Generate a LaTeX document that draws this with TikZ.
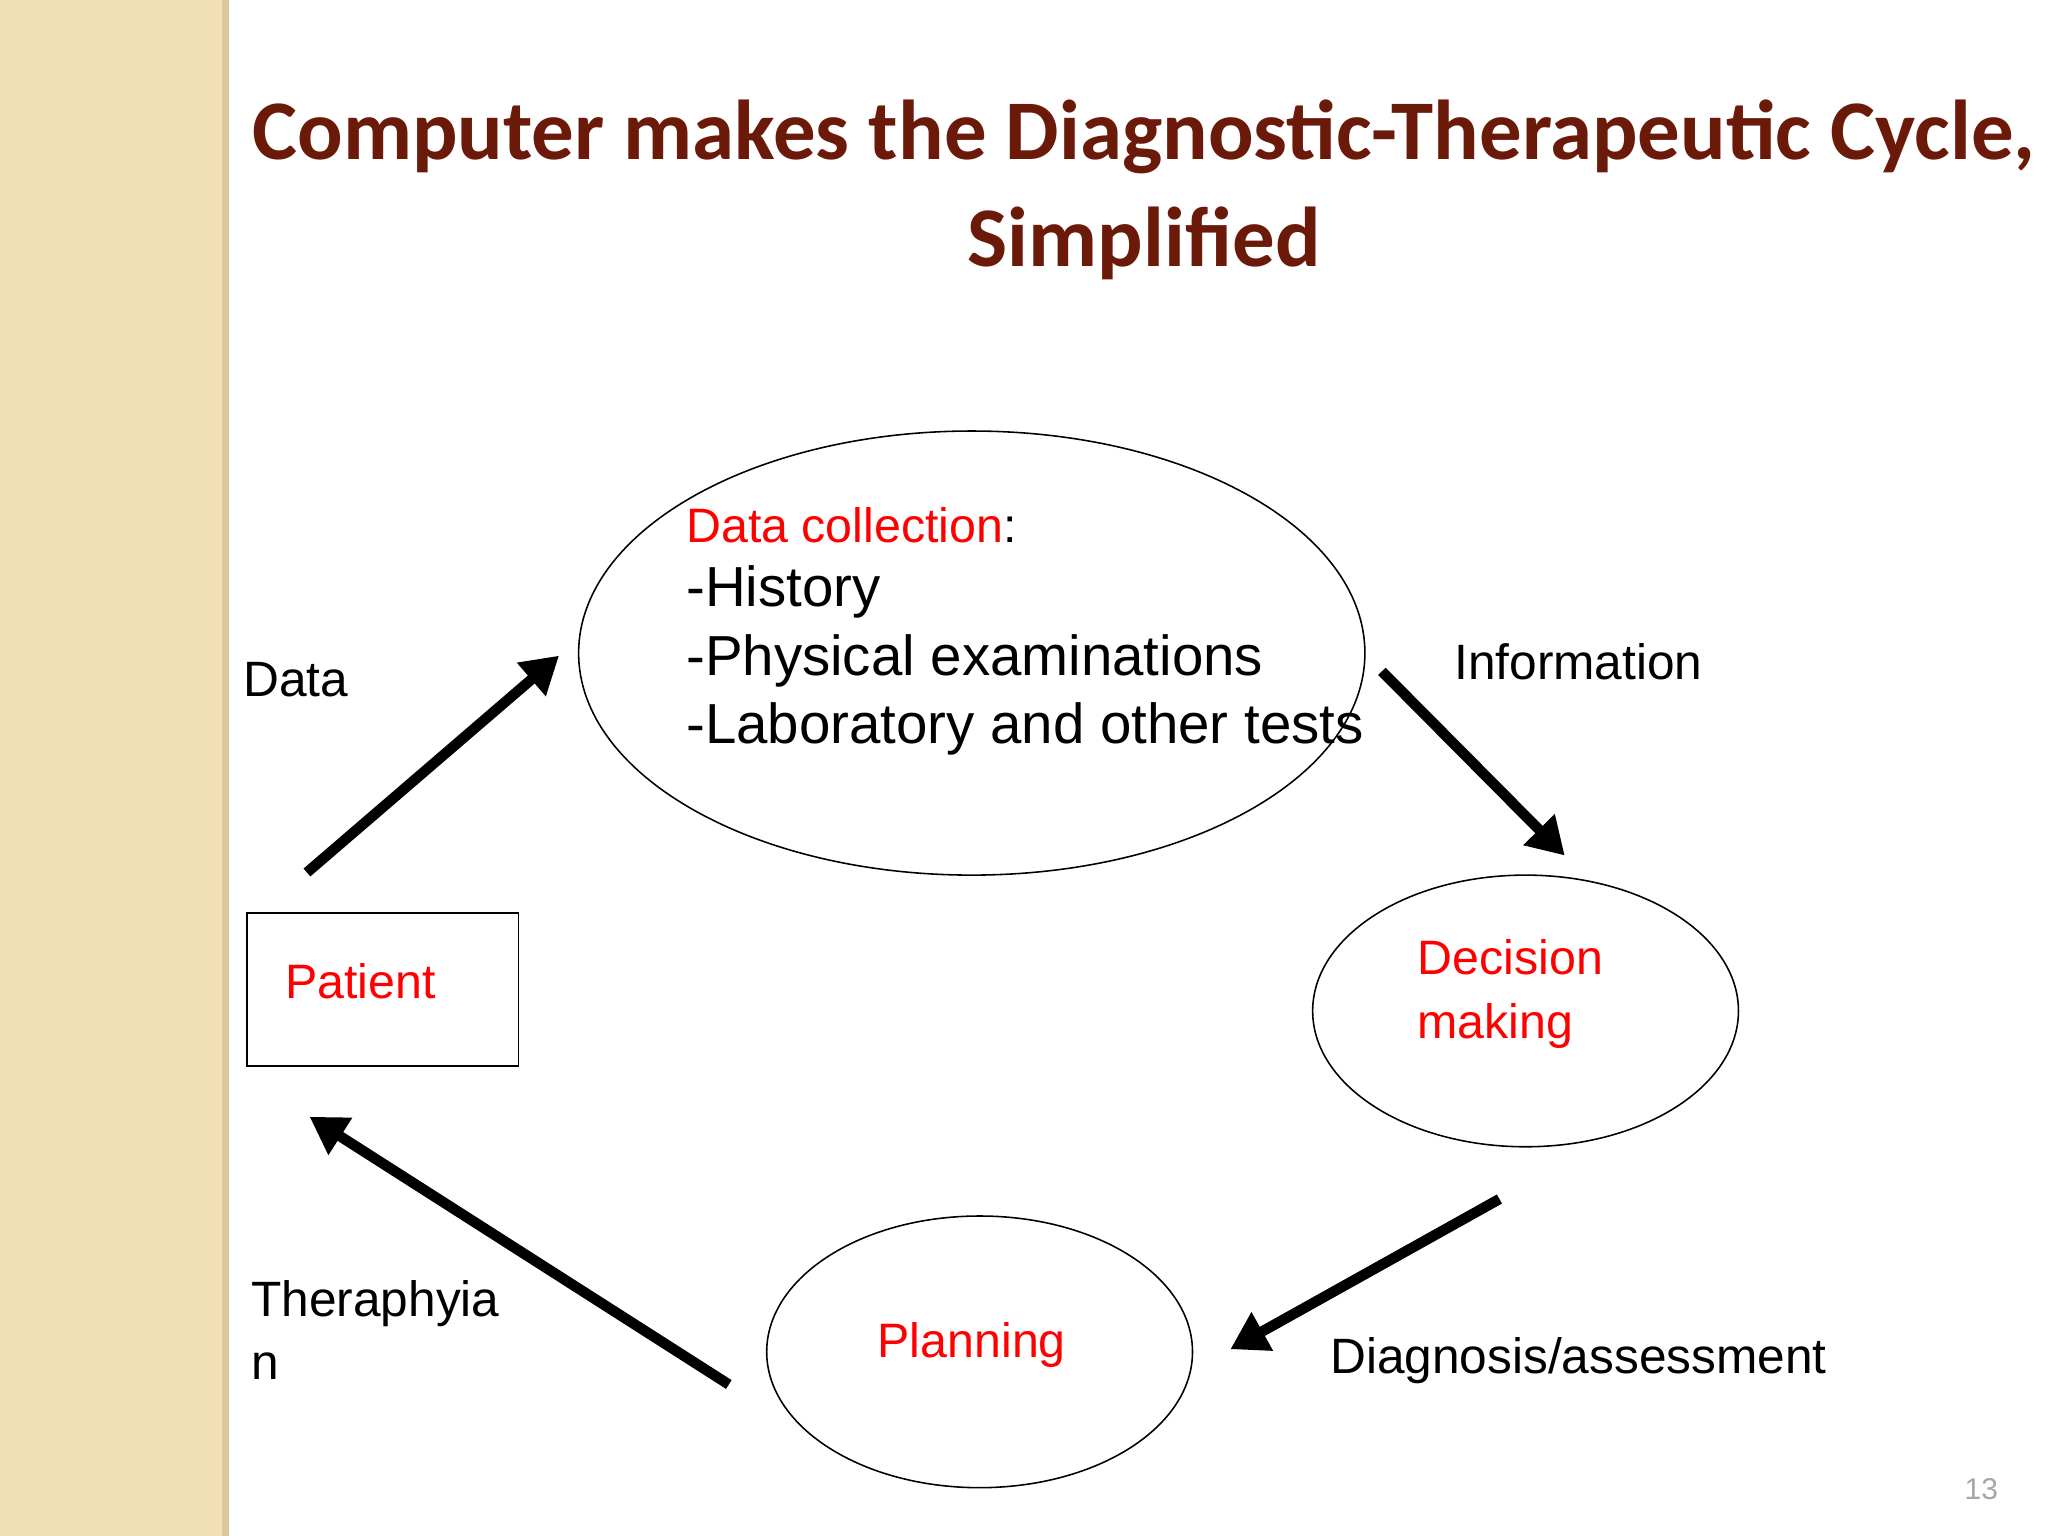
\documentclass[tikz,border=0pt]{standalone}
\usepackage{fontspec}
\setmainfont{Liberation Sans}
\newfontfamily\titlefont{Carlito}
\usetikzlibrary{arrows.meta}
\definecolor{titlered}{HTML}{6B1A0A}
\definecolor{beige}{HTML}{F1DFB6}
\definecolor{beigeedge}{HTML}{DCC79A}
\tikzset{
  ell/.style={draw,line width=0.6pt},
  bigarrow/.style={line width=4pt,-{Triangle[length=14pt,width=16pt]}},
  lbl/.style={anchor=west,font=\fontsize{19}{22}\selectfont,inner sep=0pt},
  redtxt/.style={text=red,font=\fontsize{18.5}{24.5}\selectfont,inner sep=0pt}
}
\begin{document}
\begin{tikzpicture}[x=0.5pt,y=-0.5pt]
\useasboundingbox (0,0) rectangle (1568,1176);
\fill[white] (0,0) rectangle (1568,1176);
\fill[beige] (0,0) rectangle (172,1176);
\fill[beigeedge] (170,0) rectangle (175,1176);
\node[font=\titlefont\bfseries\fontsize{32.5}{41}\selectfont,text=titlered,align=center] (title) at (876,145) {Computer makes the Diagnostic-Therapeutic Cycle,\\Simplified};
\draw[ell] (744,500) ellipse [x radius=301,y radius=170];
\node[redtxt,anchor=west] (dc) at (525,402) {Data collection\textcolor{black}{:}};
\node[anchor=west,inner sep=0pt,font=\fontsize{21.6}{26}\selectfont] (h) at (525,453) {-History};
\node[anchor=west,inner sep=0pt,font=\fontsize{21.6}{26}\selectfont] (p) at (525,506) {-Physical examinations};
\node[anchor=west,inner sep=0pt,font=\fontsize{21.6}{26}\selectfont] (l) at (525,558) {-Laboratory and other tests};
\draw[ell] (1168,774) ellipse [x radius=163,y radius=104];
\node[redtxt,anchor=west,align=left] (dm) at (1085,761) {Decision\\making};
\draw[ell] (750,1035) ellipse [x radius=163,y radius=104];
\node[redtxt] (pl) at (744,1030) {Planning};
\node[draw,line width=0.6pt,minimum width=104pt,minimum height=58.5pt] (pat) at (293,757.5) {};
\node[redtxt,anchor=west] (patt) at (218,751) {Patient};
\coordinate (a1) at (235,668); \coordinate (a2) at (428,502);
\coordinate (b1) at (1058,514); \coordinate (b2) at (1198,655);
\coordinate (c1) at (1148,918); \coordinate (c2) at (942,1033);
\coordinate (d1) at (558,1060); \coordinate (d2) at (237,855);
\draw[bigarrow] (a1) -- (a2);
\draw[bigarrow] (b1) -- (b2);
\draw[bigarrow] (c1) -- (c2);
\draw[bigarrow] (d1) -- (d2);
\node[lbl] (ld) at (186,520) {Data};
\node[lbl] (li) at (1113,507) {Information};
\node[lbl] (lg) at (1018,1042) {Diagnosis/assessment};
\node[lbl] (lt1) at (192,998) {Theraphyia};
\node[lbl] (lt2) at (192,1046) {n};
\node[text=gray!70,font=\fontsize{11.5}{13}\selectfont] (pn) at (1517,1140) {13};
\end{tikzpicture}
\end{document}
